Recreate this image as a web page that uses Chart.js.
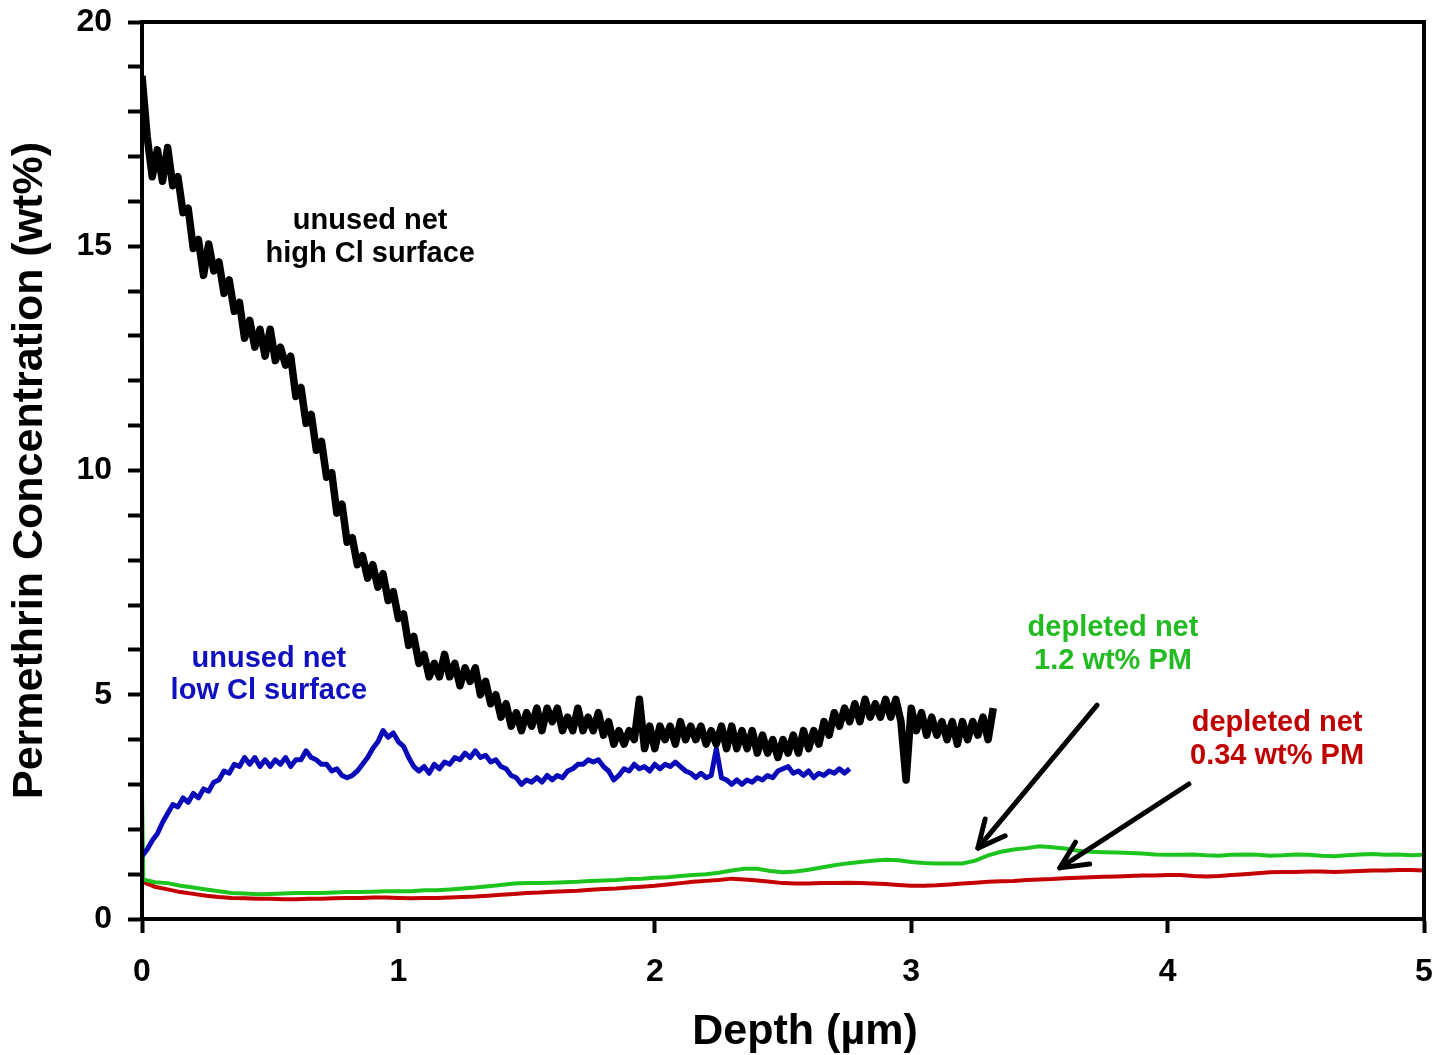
<!DOCTYPE html>
<html><head><meta charset="utf-8">
<script src="https://cdn.jsdelivr.net/npm/chart.js@4.4.1/dist/chart.umd.min.js"></script>
<style>html,body{margin:0;padding:0;background:#fff}#wrap{width:1447px;height:1055px}</style>
</head><body><div id="wrap"><canvas id="c" width="1447" height="1055"></canvas></div>
<script>
// ---- DATA ----
const depthFine = [
0,0.02,0.04,0.06,0.08,0.10,0.12,0.14,0.16,0.18,
0.20,0.22,0.24,0.26,0.28,0.30,0.32,0.34,0.36,0.38,
0.40,0.42,0.44,0.46,0.48,0.50,0.52,0.54,0.56,0.58,
0.60,0.62,0.64,0.66,0.68,0.70,0.72,0.74,0.76,0.78,
0.80,0.82,0.84,0.86,0.88,0.90,0.92,0.94,0.96,0.98,
1.00,1.02,1.04,1.06,1.08,1.10,1.12,1.14,1.16,1.18,
1.20,1.22,1.24,1.26,1.28,1.30,1.32,1.34,1.36,1.38,
1.40,1.42,1.44,1.46,1.48,1.50,1.52,1.54,1.56,1.58,
1.60,1.62,1.64,1.66,1.68,1.70,1.72,1.74,1.76,1.78,
1.80,1.82,1.84,1.86,1.88,1.90,1.92,1.94,1.96,1.98,
2.00,2.02,2.04,2.06,2.08,2.10,2.12,2.14,2.16,2.18,
2.20,2.22,2.24,2.26,2.28,2.30,2.32,2.34,2.36,2.38,
2.40,2.42,2.44,2.46,2.48,2.50,2.52,2.54,2.56,2.58,
2.60,2.62,2.64,2.66,2.68,2.70,2.72,2.74,2.76,2.78,
2.80,2.82,2.84,2.86,2.88,2.90,2.92,2.94,2.96,2.98,
3.00,3.02,3.04,3.06,3.08,3.10,3.12,3.14,3.16,3.18,
3.20,3.22,3.24,3.26,3.28,3.30,3.32];

const unusedHighCl = [
18.8,17.45,16.55,17.15,16.45,17.2,16.35,16.55,15.75,15.85,
14.95,15.15,14.35,15.05,14.45,14.65,13.95,14.25,13.55,13.75,
12.95,13.35,12.75,13.15,12.55,13.15,12.45,12.75,12.35,12.55,
11.65,11.85,11.05,11.25,10.45,10.65,9.85,9.95,9.05,9.25,
8.4,8.5,7.9,8.1,7.6,7.9,7.4,7.7,7.1,7.3,
6.7,6.8,6.1,6.3,5.7,5.9,5.4,5.7,5.4,5.9,
5.4,5.7,5.2,5.6,5.3,5.6,5.0,5.3,4.8,5.0,
4.5,4.8,4.3,4.6,4.2,4.6,4.3,4.7,4.2,4.7,
4.4,4.7,4.2,4.5,4.2,4.7,4.2,4.5,4.2,4.6,
4.1,4.4,3.9,4.2,3.9,4.2,4.0,4.9,3.8,4.3,
3.8,4.3,4.0,4.3,3.9,4.4,4.0,4.3,4.0,4.3,
3.9,4.2,3.9,4.3,3.8,4.3,3.8,4.2,3.8,4.2,
3.7,4.1,3.7,4.0,3.6,4.0,3.7,4.1,3.7,4.2,
3.8,4.2,3.9,4.4,4.1,4.6,4.3,4.7,4.4,4.8,
4.4,4.9,4.5,4.8,4.5,4.9,4.5,4.9,4.4,3.1,
4.7,4.2,4.6,4.1,4.5,4.1,4.4,4.0,4.4,3.9,
4.4,4.0,4.4,4.1,4.5,4.0,4.7];

const unusedLowCl = [
1.40,1.55,1.75,1.90,2.15,2.35,2.55,2.50,2.70,2.60,
2.80,2.70,2.90,2.85,3.05,3.10,3.30,3.25,3.45,3.40,
3.60,3.45,3.60,3.40,3.55,3.40,3.55,3.45,3.60,3.40,
3.55,3.55,3.75,3.60,3.55,3.45,3.45,3.30,3.35,3.20,
3.15,3.20,3.30,3.45,3.60,3.80,3.95,4.20,4.05,4.15,
3.95,3.85,3.60,3.40,3.30,3.40,3.25,3.45,3.35,3.50,
3.45,3.60,3.55,3.70,3.60,3.75,3.60,3.65,3.50,3.55,
3.40,3.35,3.20,3.15,3.00,3.10,3.05,3.15,3.05,3.20,
3.10,3.20,3.15,3.30,3.35,3.45,3.45,3.55,3.50,3.55,
3.40,3.30,3.10,3.20,3.35,3.30,3.45,3.35,3.40,3.30,
3.45,3.35,3.45,3.40,3.50,3.40,3.30,3.25,3.15,3.25,
3.15,3.20,3.80,3.15,3.10,3.00,3.10,3.00,3.10,3.05,
3.15,3.10,3.20,3.15,3.30,3.35,3.40,3.25,3.30,3.20,
3.30,3.15,3.25,3.20,3.30,3.25,3.35,3.25,3.35];

const depthCoarse = [0,0.005,
0.05,0.10,0.15,0.20,0.25,0.30,0.35,0.40,0.45,0.50,
0.55,0.60,0.65,0.70,0.75,0.80,0.85,0.90,0.95,1.00,
1.05,1.10,1.15,1.20,1.25,1.30,1.35,1.40,1.45,1.50,
1.55,1.60,1.65,1.70,1.75,1.80,1.85,1.90,1.95,2.00,
2.05,2.10,2.15,2.20,2.25,2.30,2.35,2.40,2.45,2.50,
2.55,2.60,2.65,2.70,2.75,2.80,2.85,2.90,2.95,3.00,
3.05,3.10,3.15,3.20,3.25,3.30,3.35,3.40,3.45,3.50,
3.55,3.60,3.65,3.70,3.75,3.80,3.85,3.90,3.95,4.00,
4.05,4.10,4.15,4.20,4.25,4.30,4.35,4.40,4.45,4.50,
4.55,4.60,4.65,4.70,4.75,4.80,4.85,4.90,4.95,5.00];

const depleted12 = [2.80,0.88,
0.82,0.80,0.74,0.70,0.66,0.62,0.58,0.57,0.55,0.56,
0.57,0.58,0.58,0.58,0.59,0.60,0.60,0.61,0.62,0.62,
0.62,0.64,0.64,0.66,0.68,0.70,0.73,0.76,0.79,0.80,
0.80,0.81,0.82,0.83,0.85,0.86,0.87,0.89,0.90,0.92,
0.93,0.96,0.98,1.00,1.03,1.08,1.12,1.12,1.07,1.04,
1.06,1.10,1.15,1.20,1.24,1.27,1.30,1.32,1.31,1.27,
1.25,1.24,1.24,1.24,1.30,1.42,1.50,1.55,1.58,1.62,
1.60,1.57,1.52,1.50,1.49,1.48,1.47,1.46,1.44,1.43,
1.43,1.44,1.42,1.41,1.43,1.44,1.43,1.41,1.42,1.44,
1.43,1.41,1.40,1.42,1.44,1.45,1.43,1.44,1.42,1.43];

const depleted034 = [0.90,0.82,
0.72,0.66,0.60,0.56,0.52,0.49,0.47,0.46,0.45,0.45,
0.44,0.44,0.45,0.45,0.46,0.47,0.47,0.48,0.48,0.47,
0.46,0.47,0.47,0.48,0.49,0.50,0.52,0.54,0.56,0.58,
0.59,0.61,0.62,0.63,0.65,0.67,0.68,0.70,0.72,0.74,
0.77,0.80,0.83,0.85,0.87,0.90,0.88,0.86,0.83,0.80,
0.79,0.79,0.80,0.80,0.81,0.80,0.79,0.78,0.76,0.74,
0.74,0.75,0.77,0.79,0.81,0.83,0.84,0.85,0.87,0.88,
0.89,0.91,0.92,0.93,0.94,0.95,0.96,0.97,0.97,0.98,
0.98,0.96,0.95,0.96,0.98,1.00,1.02,1.04,1.05,1.05,
1.06,1.06,1.05,1.06,1.07,1.08,1.08,1.09,1.09,1.08];

const xTicks = [0,1,2,3,4,5];
const yTickLabels = [0,5,10,15,20];

// annotation texts and arrows (data coordinates)
const noteTexts = [
  {lines:['unused net','high Cl surface'], x:0.89, y:[15.56,14.83], color:'#000000'},
  {lines:['unused net','low Cl surface'], x:0.495, y:[5.80,5.08], color:'#1010c0'},
  {lines:['depleted net','1.2 wt% PM'], x:3.787, y:[6.49,5.75], color:'#22bb22'},
  {lines:['depleted net','0.34 wt% PM'], x:4.427, y:[4.37,3.63], color:'#c00000'}
];
const noteArrows = [
  {from:[3.725,4.77], to:[3.26,1.58]},
  {from:[4.083,3.01], to:[3.58,1.14]}
];
const xTitle = 'Depth (µm)';
const yTitle = 'Permethrin Concentration (wt%)';

// ---- CHART ----
const FONT = '"Liberation Sans", Arial, Helvetica, sans-serif';
const pts = (xs, ys) => ys.map((v,i)=>({x:xs[i], y:v}));

const framePlugin = {
  id:'frame',
  afterDraw(chart){
    const {ctx, chartArea:a} = chart;
    ctx.save();
    ctx.strokeStyle='#000'; ctx.lineWidth=4;
    ctx.strokeRect(a.left, a.top, a.right-a.left, a.bottom-a.top);
    ctx.fillStyle='#000'; ctx.font='bold 43px '+FONT;
    ctx.textAlign='center'; ctx.textBaseline='middle';
    ctx.fillText(xTitle, 805, 1032);
    ctx.restore();
  }
};
const notePlugin = {
  id:'notes',
  afterDatasetsDraw(chart){
    const {ctx, scales:{x, y}} = chart;
    ctx.save();
    ctx.font = 'bold 29px ' + FONT;
    ctx.textAlign='center'; ctx.textBaseline='middle';
    noteTexts.forEach(n=>{
      ctx.fillStyle=n.color;
      n.lines.forEach((t,i)=>ctx.fillText(t, x.getPixelForValue(n.x), y.getPixelForValue(n.y[i])));
    });
    ctx.strokeStyle='#000'; ctx.lineWidth=5; ctx.lineCap='round'; ctx.lineJoin='round';
    noteArrows.forEach(a=>{
      const x1=x.getPixelForValue(a.from[0]), y1=y.getPixelForValue(a.from[1]);
      const x2=x.getPixelForValue(a.to[0]), y2=y.getPixelForValue(a.to[1]);
      ctx.beginPath(); ctx.moveTo(x1,y1); ctx.lineTo(x2,y2); ctx.stroke();
      const ang=Math.atan2(y2-y1, x2-x1), L=30, w=0.45;
      ctx.beginPath();
      ctx.moveTo(x2-L*Math.cos(ang-w), y2-L*Math.sin(ang-w));
      ctx.lineTo(x2,y2);
      ctx.lineTo(x2-L*Math.cos(ang+w), y2-L*Math.sin(ang+w));
      ctx.stroke();
    });
    ctx.restore();
  }
};

new Chart(document.getElementById('c'), {
  type:'line',
  data:{datasets:[
    {label:'unused net high Cl surface', data:pts(depthFine, unusedHighCl), borderColor:'#000000', borderWidth:7.5, borderJoinStyle:'round'},
    {label:'unused net low Cl surface', data:pts(depthFine, unusedLowCl), borderColor:'#0a0ab8', borderWidth:5, borderJoinStyle:'round'},
    {label:'depleted net 1.2 wt% PM', data:pts(depthCoarse, depleted12), borderColor:'#1ec41e', borderWidth:4},
    {label:'depleted net 0.34 wt% PM', data:pts(depthCoarse, depleted034), borderColor:'#c40000', borderWidth:4}
  ]},
  options:{
    responsive:false, animation:false,
    elements:{point:{radius:0}, line:{tension:0}},
    layout:{padding:{top:22,right:23,left:0,bottom:0}},
    plugins:{legend:{display:false}, tooltip:{enabled:false}},
    scales:{
      x:{type:'linear', min:0, max:5,
        afterBuildTicks(s){ s.ticks = xTicks.map(v=>({value:v})); },
        ticks:{font:{family:FONT,size:32,weight:'bold'}, color:'#000', padding:20, maxRotation:0},
        grid:{drawOnChartArea:false, drawTicks:true, tickLength:14, tickWidth:4, tickColor:'#000'},
        border:{display:true, width:4, color:'#000'},
        title:{display:false},
        afterFit(s){ s.height = 136; s.paddingLeft = 0; s.paddingRight = 0; }
      },
      y:{type:'linear', min:0, max:20,
        ticks:{stepSize:1, autoSkip:false, font:{family:FONT,size:32,weight:'bold'}, color:'#000', padding:16,
          callback:v=> yTickLabels.includes(v) ? String(v) : ''},
        grid:{drawOnChartArea:false, drawTicks:true, tickLength:14, tickWidth:4, tickColor:'#000'},
        border:{display:true, width:4, color:'#000'},
        title:{display:true, text:yTitle, color:'#000', font:{family:FONT,size:43,weight:'bold'}, padding:{top:4,bottom:0}},
        afterFit(s){ s.width = 142; s.paddingTop = 0; s.paddingBottom = 0; }
      }
    }
  },
  plugins:[framePlugin, notePlugin]
});
</script></body></html>
